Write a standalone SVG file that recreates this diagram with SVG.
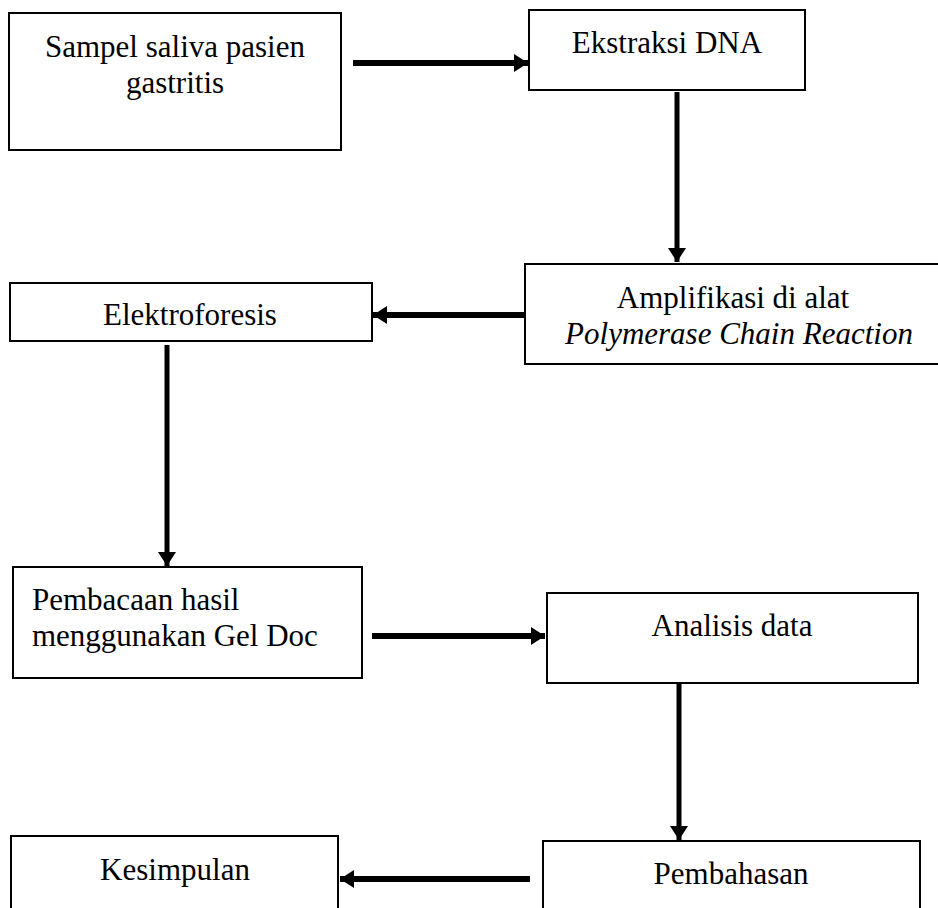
<svg xmlns="http://www.w3.org/2000/svg" width="938" height="908" viewBox="0 0 938 908">
<style>
.box{fill:#fff;stroke:#000;stroke-width:2}
.t{font-family:"Liberation Serif","Times New Roman",serif;font-size:31px;fill:#000}
.c{text-anchor:middle}
.h{stroke:#000;stroke-width:6;fill:none}
.v{stroke:#000;stroke-width:5;fill:none}
</style>
<defs>
<marker id="ah" markerUnits="userSpaceOnUse" markerWidth="14" markerHeight="18" refX="14" refY="9" orient="auto" viewBox="0 0 14 18">
<path d="M0,0 L14,9 L0,18 Z" fill="#000"/>
</marker>
</defs>
<rect width="938" height="908" fill="#fff"/>
<g id="connectors">
<line class="h" x1="353" y1="63" x2="528" y2="63" marker-end="url(#ah)"/>
<line class="v" x1="677" y1="92" x2="677" y2="262" marker-end="url(#ah)"/>
<line class="h" x1="525" y1="315" x2="373" y2="315" marker-end="url(#ah)"/>
<line class="v" x1="167" y1="345" x2="167" y2="566" marker-end="url(#ah)"/>
<line class="h" x1="372" y1="636" x2="545" y2="636" marker-end="url(#ah)"/>
<line class="v" x1="679" y1="670" x2="679" y2="840" marker-end="url(#ah)"/>
<line class="h" x1="530" y1="879" x2="340" y2="879" marker-end="url(#ah)"/>
</g>
<g id="n1">
<rect class="box" x="9" y="13" width="332" height="137"/>
<text class="t c" x="175" y="57">Sampel saliva pasien</text>
<text class="t c" x="175" y="93">gastritis</text>
</g>
<g id="n2">
<rect class="box" x="529" y="10" width="276" height="80"/>
<text class="t c" x="667" y="53">Ekstraksi DNA</text>
</g>
<g id="n3">
<rect class="box" x="525" y="264" width="420" height="100"/>
<text class="t c" x="733" y="308">Amplifikasi di alat</text>
<text class="t c" x="739" y="344" font-style="italic">Polymerase Chain Reaction</text>
</g>
<g id="n4">
<rect class="box" x="10" y="283" width="362" height="58"/>
<text class="t c" x="190" y="325">Elektroforesis</text>
</g>
<g id="n5">
<rect class="box" x="13" y="567" width="349" height="111"/>
<text class="t" x="32" y="610">Pembacaan hasil</text>
<text class="t" x="32" y="646">menggunakan Gel Doc</text>
</g>
<g id="n6">
<rect class="box" x="547" y="593" width="371" height="90"/>
<text class="t c" x="732" y="636">Analisis data</text>
</g>
<g id="n7">
<rect class="box" x="543" y="841" width="377" height="80"/>
<text class="t c" x="731" y="884">Pembahasan</text>
</g>
<g id="n8">
<rect class="box" x="11" y="836" width="327" height="90"/>
<text class="t c" x="175" y="880">Kesimpulan</text>
</g>
</svg>
